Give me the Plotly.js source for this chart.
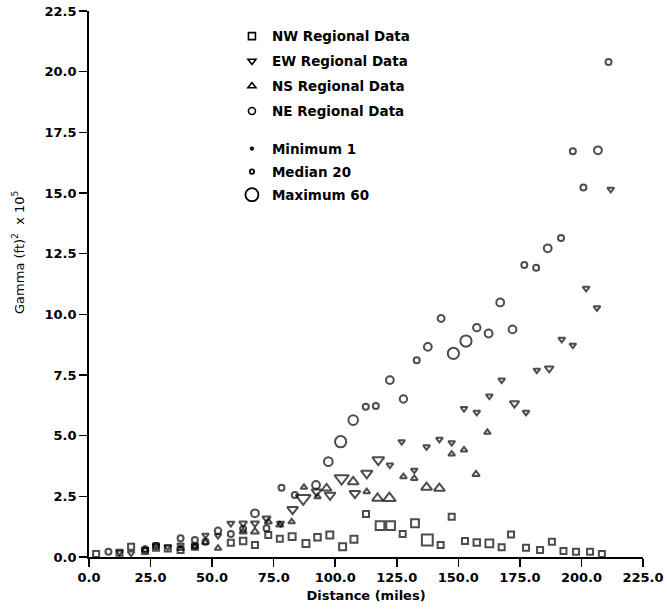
<!DOCTYPE html>
<html>
<head>
<meta charset="utf-8">
<script src="https://cdn.plot.ly/plotly-3.0.1.min.js"></script>
<style>html,body{margin:0;padding:0;background:#fff;}</style>
</head>
<body>
<div id="chart" style="width:667px;height:609px;"></div>
<script>
// ---- data (distance in miles, gamma in (ft)^2 x 10^5, pairs = number of pairs) ----
const nwDist = [2.9, 12.4, 17.1, 22.8, 27.2, 32.0, 37.2, 43.0, 57.6, 62.6, 67.4, 72.8, 77.5, 82.5, 88.1, 92.8, 97.8, 103.0, 107.6, 112.5, 118.2, 122.5, 127.4, 132.4, 137.4, 142.8, 147.3, 152.7, 157.5, 162.6, 167.6, 171.4, 177.5, 183.2, 188.0, 192.7, 197.8, 203.5, 208.3];
const nwGamma = [0.12, 0.18, 0.42, 0.25, 0.38, 0.35, 0.29, 0.42, 0.59, 0.66, 0.49, 0.91, 0.75, 0.84, 0.56, 0.81, 0.91, 0.42, 0.73, 1.77, 1.29, 1.29, 0.95, 1.39, 0.70, 0.49, 1.66, 0.66, 0.60, 0.56, 0.40, 0.93, 0.38, 0.29, 0.63, 0.25, 0.22, 0.22, 0.12];
const nwPairs = [10, 12, 22, 14, 14, 14, 14, 16, 28, 30, 18, 20, 22, 32, 32, 30, 32, 32, 32, 20, 40, 40, 22, 36, 50, 20, 22, 20, 30, 36, 26, 22, 20, 12, 20, 8, 6, 6, 6];

const ewDist = [12.4, 17.1, 27.2, 32.0, 37.2, 43.0, 47.3, 52.4, 57.6, 62.6, 67.4, 72.1, 77.8, 82.7, 87.0, 92.4, 97.9, 102.6, 108.0, 112.8, 117.5, 122.2, 127.0, 132.1, 137.1, 142.3, 147.3, 152.3, 157.5, 162.6, 167.6, 172.8, 177.5, 181.9, 186.9, 192.0, 196.5, 201.9, 206.3, 211.9];
const ewGamma = [0.20, 0.16, 0.50, 0.42, 0.49, 0.45, 0.90, 0.88, 1.39, 1.39, 1.39, 1.59, 1.39, 1.96, 2.42, 2.69, 2.55, 3.24, 2.62, 3.45, 4.00, 3.79, 4.75, 3.58, 4.54, 4.85, 4.71, 6.12, 5.96, 6.63, 7.29, 6.33, 5.96, 7.70, 7.77, 8.97, 8.73, 11.07, 10.27, 15.15];
const ewPairs = [14, 12, 18, 18, 16, 16, 26, 18, 30, 32, 34, 34, 30, 44, 60, 40, 44, 58, 44, 46, 48, 22, 24, 14, 14, 20, 18, 18, 20, 20, 18, 38, 20, 22, 36, 20, 16, 14, 14, 12];

const nsDist = [22.8, 37.2, 43.0, 47.3, 52.4, 62.6, 67.4, 72.8, 77.5, 82.3, 87.3, 92.8, 96.5, 107.3, 112.8, 117.2, 122.0, 127.7, 132.1, 137.1, 142.3, 147.3, 152.3, 157.2, 161.8];
const nsGamma = [0.29, 0.35, 0.42, 0.60, 0.36, 1.04, 1.04, 1.45, 1.32, 1.45, 2.87, 2.48, 2.83, 3.10, 2.69, 2.42, 2.42, 3.31, 3.24, 2.87, 2.83, 4.24, 4.41, 3.41, 5.14];
const nsPairs = [14, 14, 14, 16, 24, 30, 34, 30, 30, 26, 18, 18, 40, 44, 24, 44, 52, 26, 24, 44, 44, 26, 26, 30, 18];

const neDist = [7.9, 22.8, 27.2, 37.2, 43.0, 47.3, 52.4, 57.6, 62.6, 67.4, 72.1, 78.2, 83.6, 92.2, 97.2, 102.2, 107.3, 112.4, 116.5, 122.2, 127.7, 133.1, 137.6, 143.0, 148.0, 153.1, 157.5, 162.3, 167.0, 172.0, 176.8, 181.6, 186.3, 191.7, 196.5, 200.8, 206.7, 211.0];
const neGamma = [0.22, 0.32, 0.45, 0.77, 0.70, 0.63, 1.08, 0.95, 1.15, 1.80, 1.18, 2.85, 2.55, 2.97, 3.93, 4.75, 5.64, 6.19, 6.22, 7.29, 6.51, 8.11, 8.66, 9.83, 8.39, 8.90, 9.45, 9.21, 10.49, 9.38, 12.03, 11.92, 12.72, 13.15, 16.72, 15.23, 16.76, 20.40];
const nePairs = [12, 14, 14, 26, 20, 16, 30, 16, 16, 36, 22, 26, 22, 36, 40, 52, 44, 28, 24, 36, 34, 16, 36, 32, 52, 52, 34, 36, 36, 36, 24, 18, 36, 24, 14, 14, 36, 10];

const seriesNames = ['NW Regional Data', 'EW Regional Data', 'NS Regional Data', 'NE Regional Data'];
const sizeNames = ['Minimum 1', 'Median 20', 'Maximum 60'];
const sizeCounts = [1, 20, 60];
const xTitle = 'Distance (miles)';
const yTitle = 'Gamma (ft)<sup>2</sup>  x 10<sup>5</sup>';

// ---- styling ----
const INK = '#000000';
const SIZEREF = 60 / 13;
const symbols = ['square-open', 'triangle-down-open', 'triangle-up-open', 'circle-open'];
const series = [
  [nwDist, nwGamma, nwPairs],
  [ewDist, ewGamma, ewPairs],
  [nsDist, nsGamma, nsPairs],
  [neDist, neGamma, nePairs]
];

const traces = [];
series.forEach((s, i) => {
  traces.push({
    type: 'scatter', mode: 'markers', x: s[0], y: s[1],
    showlegend: false, cliponaxis: false, hoverinfo: 'x+y',
    marker: {
      symbol: symbols[i], size: s[2], sizemode: 'diameter', sizeref: SIZEREF, sizemin: 3,
      color: INK, line: {color: INK, width: 2}
    }
  });
});
// legend entries (series)
seriesNames.forEach((n, i) => {
  traces.push({
    type: 'scatter', mode: 'markers', x: [null], y: [null], name: n,
    legend: 'legend', legendgroup: 'g' + i, showlegend: true,
    marker: {symbol: symbols[i], size: 7, color: INK, line: {color: INK, width: 1.6}}
  });
});
// legend entries (marker size scale)
sizeNames.forEach((n, i) => {
  traces.push({
    type: 'scatter', mode: 'markers', x: [null], y: [null], name: n,
    legend: 'legend2', legendgroup: 's' + i, showlegend: true,
    marker: {symbol: 'circle-open', size: Math.max(2.5, sizeCounts[i] / SIZEREF),
             color: INK, line: {color: INK, width: 1.8}}
  });
});

const tickFont = {family: 'DejaVu Sans', size: 13, weight: 'bold', color: INK};
const legFont = {family: 'DejaVu Sans', size: 13.5, weight: 'bold', color: INK};

const layout = {
  width: 667, height: 609,
  margin: {l: 89, r: 24, t: 11, b: 52, pad: 0},
  paper_bgcolor: '#ffffff', plot_bgcolor: '#ffffff',
  showlegend: true,
  xaxis: {
    range: [0, 225], dtick: 25, tick0: 0, tickformat: '.1f',
    showgrid: false, zeroline: false, showline: true, linecolor: INK, linewidth: 1.8,
    ticks: 'outside', ticklen: 8, tickwidth: 1.6, tickcolor: INK, tickfont: tickFont,
    title: {text: xTitle, font: tickFont, standoff: 6}, automargin: false
  },
  yaxis: {
    range: [0, 22.5], dtick: 2.5, tick0: 0, tickformat: '.1f',
    showgrid: false, zeroline: false, showline: true, linecolor: INK, linewidth: 1.8,
    ticks: 'outside', ticklen: 8, tickwidth: 1.6, tickcolor: INK, tickfont: tickFont,
    automargin: false
  },
  legend: {
    x: 0.258, y: 0.982, xanchor: 'left', yanchor: 'top',
    bgcolor: 'rgba(0,0,0,0)', borderwidth: 0, font: legFont,
    traceorder: 'grouped', tracegroupgap: 4.4, itemsizing: 'trace', itemwidth: 30
  },
  legend2: {
    x: 0.258, y: 0.776, xanchor: 'left', yanchor: 'top',
    bgcolor: 'rgba(0,0,0,0)', borderwidth: 0, font: legFont,
    traceorder: 'grouped', tracegroupgap: 2.5, itemsizing: 'trace', itemwidth: 30
  },
  annotations: [{
    text: yTitle, xref: 'paper', yref: 'paper', x: -0.128, y: 0.557,
    xanchor: 'center', yanchor: 'middle', textangle: -90, showarrow: false,
    font: {family: 'DejaVu Sans', size: 13, color: INK}
  }]
};

Plotly.newPlot('chart', traces, layout, {displayModeBar: false, staticPlot: true});
</script>
</body>
</html>
